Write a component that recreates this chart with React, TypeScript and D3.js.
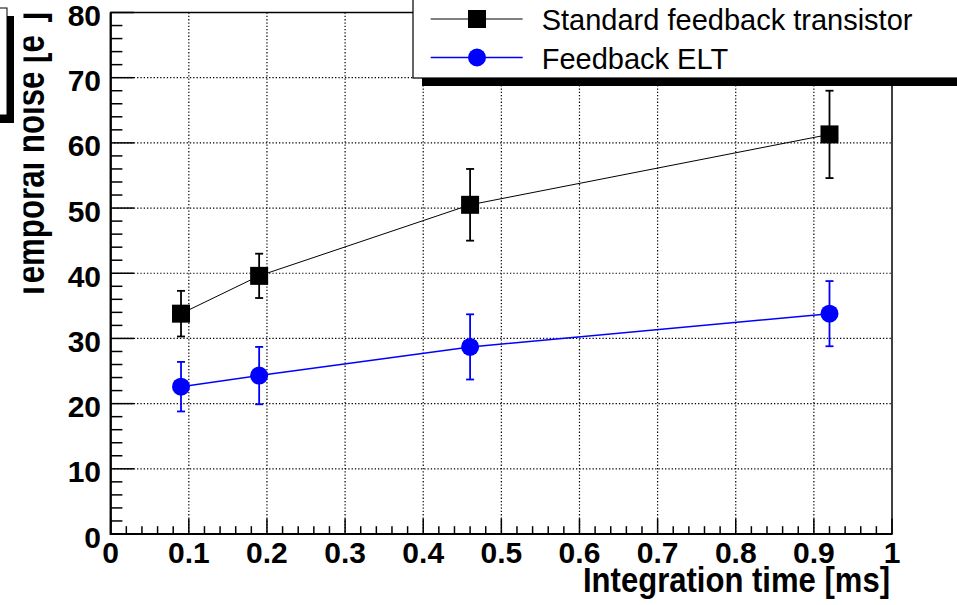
import { useMemo } from 'react'
import * as d3 from 'd3'

// integration times [ms]
const integrationTimes = [0.09, 0.19, 0.46, 0.92]

// temporal noise [e-]
const standardNoise = [33.8, 39.6, 50.5, 61.3]
const standardErr = [3.5, 3.4, 5.5, 6.7]

const eltNoise = [22.6, 24.3, 28.7, 33.8]
const eltErr = [3.8, 4.4, 5.0, 5.0]

const xTicks = [0, 0.1, 0.2, 0.3, 0.4, 0.5, 0.6, 0.7, 0.8, 0.9, 1]
const xTickLabels = ['0', '0.1', '0.2', '0.3', '0.4', '0.5', '0.6', '0.7', '0.8', '0.9', '1']
const yTicks = [0, 10, 20, 30, 40, 50, 60, 70, 80]

const seriesNames = ['Standard feedback transistor', 'Feedback ELT']

const W = 957
const H = 605
const FONT = '"Liberation Sans", Arial, Helvetica, sans-serif'

export default function App() {
  const margin = { left: 110.7, right: 892, top: 12.5, bottom: 534 }

  const x = useMemo(() => d3.scaleLinear().domain([0, 1]).range([margin.left, margin.right]), [])
  const y = useMemo(() => d3.scaleLinear().domain([0, 80]).range([margin.bottom, margin.top]), [])

  const xMinor = d3.range(0, 1.0001, 0.02)
  const yMinor = d3.range(0, 80.001, 2)

  const line = d3.line<number>()
    .x((_, i) => x(integrationTimes[i]))
    .y(d => y(d))

  const series = [
    { name: seriesNames[0], values: standardNoise, errs: standardErr, color: '#000000', marker: 'square', width: 1 },
    { name: seriesNames[1], values: eltNoise, errs: eltErr, color: '#0000ff', marker: 'circle', width: 1.5 },
  ]

  const drawMarker = (kind: string, cx: number, cy: number, color: string, key?: string) =>
    kind === 'square'
      ? <rect key={key} x={cx - 9} y={cy - 9} width={18} height={18} fill={color} />
      : <circle key={key} cx={cx} cy={cy} r={9} fill={color} />

  const majorY = 23.4
  const minorY = 11.7
  const majorX = 15.6
  const minorX = 7.8

  return (
    <svg width={W} height={H} style={{ position: 'absolute', left: 0, top: 0, background: '#fff' }}>
      <defs>
        <clipPath id="ytitle-clip">
          <rect x={23.5} y={0} width={40} height={H} />
        </clipPath>
      </defs>
      <rect x={0} y={0} width={W} height={H} fill="#fff" />

      {/* title box, mostly off the page */}
      <rect x={-43} y={16} width={57} height={107} fill="#000" />
      <rect x={-50} y={8} width={57} height={107} fill="#fff" stroke="#000" strokeWidth={1} />

      {/* grid */}
      <g stroke="#000" strokeWidth={1.2} strokeDasharray="1.3 2">
        {xTicks.slice(1, -1).map(t => (
          <line key={'gx' + t} x1={x(t)} x2={x(t)} y1={margin.top} y2={margin.bottom} />
        ))}
        {yTicks.slice(1, -1).map(t => (
          <line key={'gy' + t} x1={margin.left} x2={margin.right} y1={y(t)} y2={y(t)} />
        ))}
      </g>

      {/* frame */}
      <rect x={margin.left} y={margin.top} width={margin.right - margin.left} height={margin.bottom - margin.top}
        fill="none" stroke="#000" strokeWidth={1.5} />
      <line x1={margin.left} x2={margin.left} y1={margin.top} y2={margin.bottom + 1} stroke="#000" strokeWidth={2.2} />
      <line x1={margin.left} x2={margin.right} y1={margin.bottom} y2={margin.bottom} stroke="#000" strokeWidth={2.2} />

      {/* ticks */}
      <g stroke="#000" strokeWidth={1.5}>
        {xMinor.map((t, i) => {
          const major = i % 5 === 0
          return <line key={'tx' + i} x1={x(t)} x2={x(t)} y1={margin.bottom} y2={margin.bottom - (major ? majorX : minorX)} />
        })}
        {yMinor.map((t, i) => {
          const major = i % 5 === 0
          return <line key={'ty' + i} x1={margin.left} x2={margin.left + (major ? majorY : minorY)} y1={y(t)} y2={y(t)} />
        })}
      </g>

      {/* tick labels */}
      <g fontFamily={FONT} fontWeight="bold" fontSize={30} fill="#000">
        {xTicks.map((t, i) => (
          <text key={'lx' + t} x={x(t)} y={563.3} textAnchor="middle">{xTickLabels[i]}</text>
        ))}
        {yTicks.map(t => (
          <text key={'ly' + t} x={101} y={y(t) + 13.5} textAnchor="end">{t}</text>
        ))}
      </g>

      {/* axis titles */}
      <text x={890} y={592} textAnchor="end" fontFamily={FONT} fontWeight="bold" fontSize={35}
        textLength={307} lengthAdjust="spacingAndGlyphs">Integration time [ms]</text>
      <g clipPath="url(#ytitle-clip)">
        <text transform="translate(43.5,12) rotate(-90)" textAnchor="end" fontFamily={FONT} fontWeight="bold" fontSize={40}
          textLength={288} lengthAdjust="spacingAndGlyphs">
          Temporal noise [e<tspan dy={-14} fontSize={28}>−</tspan><tspan dy={14}>]</tspan>
        </text>
      </g>

      {/* series */}
      {series.map(s => (
        <g key={s.name}>
          <path d={line(s.values) || ''} fill="none" stroke={s.color} strokeWidth={s.width} />
          {s.values.map((v, i) => {
            const cx = x(integrationTimes[i])
            const top = y(v + s.errs[i])
            const bot = y(v - s.errs[i])
            return (
              <g key={i} stroke={s.color} strokeWidth={1.8}>
                <line x1={cx} x2={cx} y1={top} y2={bot} />
                <line x1={cx - 4} x2={cx + 4} y1={top} y2={top} />
                <line x1={cx - 4} x2={cx + 4} y1={bot} y2={bot} />
              </g>
            )
          })}
          {s.values.map((v, i) => drawMarker(s.marker, x(integrationTimes[i]), y(v), s.color, s.name + i))}
        </g>
      ))}

      {/* legend */}
      <rect x={422} y={-10} width={560} height={96} fill="#000" />
      <rect x={413} y={-10} width={560} height={88} fill="#fff" stroke="#000" strokeWidth={1.2} />
      {series.map((s, i) => {
        const ly = 19 + i * 38.5
        return (
          <g key={'leg' + i}>
            <line x1={430.7} x2={522.7} y1={ly} y2={ly} stroke={s.color} strokeWidth={s.width} />
            {drawMarker(s.marker, 477, ly, s.color)}
            <text x={541.7} y={ly + 11} fontFamily={FONT} fontSize={29} fill="#000">{s.name}</text>
          </g>
        )
      })}
    </svg>
  )
}
